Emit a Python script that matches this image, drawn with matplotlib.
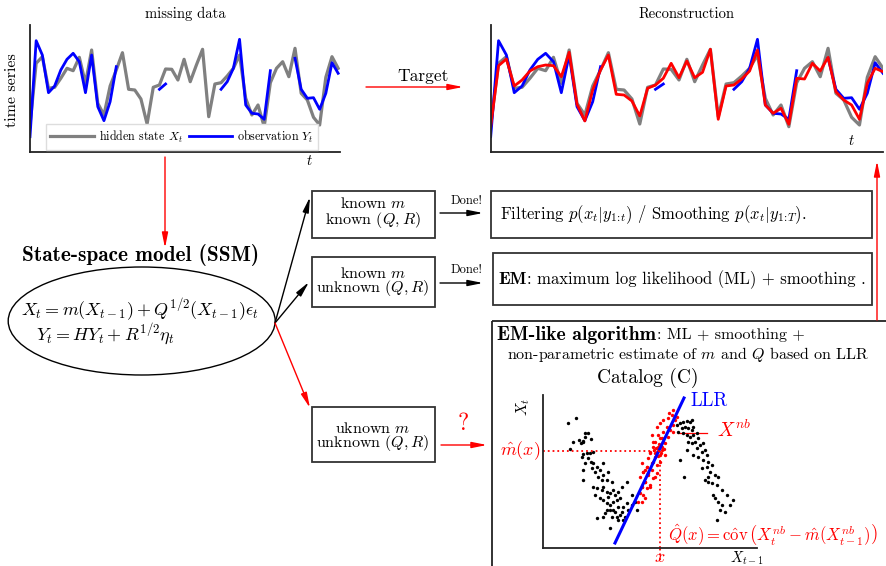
import matplotlib.pyplot as plt
import numpy as np
from matplotlib.patches import Rectangle, Ellipse

plt.rcParams['font.family'] = 'cmr10'
plt.rcParams['mathtext.fontset'] = 'cm'
plt.rcParams['axes.unicode_minus'] = False

nan = np.nan
# time series (height above the time axis)
hidden = [27, 88.7, 95.3, 63.7, 64.7, 73.7, 83.7, 81.3, 94.7, 68.7,
          102, 48.7, 37, 66, 82, 99.3, 62.7, 62, 53, 28,
          64.7, 67, 83, 82.7, 72, 92.7, 70.3, 87, 102.7, 35.3,
          68, 69.3, 76, 83.7, 97, 53.7, 37, 47, 25.3, 69.3,
          83.7, 90.3, 75.3, 103.7, 58.7, 52, 34.7, 27, 74.7, 95.3, 83.7]
obs = [15.3, 111.3, 97, 59.3, 66, 82, 92.7, 98.7, 90.3, 59.3,
       97, 45.3, 31.3, 50.3, 85.3, nan, nan, nan, nan, nan,
       nan, 62.7, 68, nan, nan, nan, nan, nan, nan, nan,
       nan, 62.7, 70.3, 83.7, 112.7, 47, 38.7, 38, 32.7, 81.3,
       nan, nan, nan, 93.7, 62.7, 53.7, 54.3, 42.7, 58.7, 89.3, 78.7]
smooth = [25.3, 86.3, 93, 66, 72, 81, 85.3, 87, 86.3, 75.3,
          99.7, 47.7, 31, 62, 82, 97, 57.7, 57, 51, 36,
          63.7, 67, 73.7, 88.7, 74.3, 91, 74.3, 79.7, 102.7, 32.7,
          66, 67, 73, 81, 102, 47, 38.7, 43.7, 27.7, 73.7,
          73, 88.7, 81, 94.7, 60.3, 52, 47, 32.7, 68.7, 83.7, 80.3]
t = np.arange(len(hidden))

# catalog scatter (X_{t-1}, X_t)
cat_x = [25, 33, 42, 45, 30, 36, 38, 40, 40, 42, 27, 48, 44, 40, 47, 50, 39, 45, 42, 48,
         50, 54, 49, 40, 52, 57, 60, 65, 60, 55, 59, 64, 40, 69, 50, 54, 59, 60, 64, 67,
         70, 72, 75, 79, 84, 52, 57, 60, 65, 64, 67, 70, 74, 77, 75, 80, 84, 79, 72, 67,
         62, 54, 60, 69, 74, 77, 82, 67, 75, 80, 85, 89, 94, 92, 89, 70, 64,
         134, 137, 140, 144, 147, 149, 139, 142, 145, 149, 150, 135, 140, 144, 147, 150, 154, 155,
         145, 149, 152, 157, 160, 154, 159, 162, 164, 137, 155, 160, 165, 169, 164, 167, 172, 175,
         162, 165, 169, 174, 179, 184, 170, 172, 175, 179, 177, 182, 187, 190, 174, 165, 159, 150,
         144, 141]
cat_y = [125, 130, 115, 115, 106, 108, 105, 106, 107, 111, 99, 109, 95, 94, 95, 96, 91, 90, 85, 86,
         85, 81, 80, 78, 76, 78, 85, 76, 73, 71, 68, 68, 68, 66, 61, 60, 58, 61, 56, 55,
         58, 53, 56, 61, 66, 53, 50, 48, 51, 45, 43, 46, 48, 50, 41, 41, 45, 36, 36, 38,
         35, 30, 31, 31, 31, 33, 31, 20, 28, 28, 38, 43, 38, 46, 53, 38, 38,
         123, 125, 126, 127, 126, 128, 120, 121, 120, 118, 121, 116, 115, 113, 111, 113, 115, 110,
         106, 105, 106, 103, 105, 100, 96, 98, 93, 88, 91, 88, 86, 83, 81, 76, 73, 71,
         68, 66, 65, 63, 58, 53, 53, 50, 46, 43, 38, 36, 43, 48, 28, 71, 80, 93,
         98, 71]
nb_x = [130, 129, 125, 120, 117, 124, 127, 130, 120, 115, 119, 112, 122, 110, 115, 119, 107, 112,
        117, 105, 110, 114, 104, 109, 100, 105, 110, 102, 99, 104, 107, 100, 99, 130, 134, 132,
        125, 122, 114, 117, 102, 126, 109, 114, 110, 115, 107, 112, 109, 104, 99, 100, 105, 97,
        102, 99, 97, 102, 95, 107, 112, 113, 116, 119, 114, 120, 117, 111, 121, 115, 118]
nb_y = [138, 133, 130, 128, 125, 121, 118, 116, 116, 113, 110, 106, 105, 101, 100, 98, 96, 95,
        93, 90, 86, 83, 81, 78, 76, 73, 70, 66, 61, 60, 63, 53, 46, 123, 131, 128,
        111, 93, 75, 86, 78, 135, 113, 121, 106, 101, 95, 91, 85, 81, 85, 76, 75, 71,
        66, 61, 55, 50, 46, 61, 71, 100, 104, 101, 96, 106, 110, 98, 99, 92, 95]
llr_x = [72, 141]
llr_y = [5, 150]
x_star, m_hat = 117, 97

W, H = 886, 566
fig = plt.figure(figsize=(W / 100, H / 100), dpi=100)
ax = fig.add_axes([0, 0, 1, 1])
ax.set_xlim(0, W)
ax.set_ylim(H, 0)
ax.axis('off')


def px_axes(x0, y0, x1, y1):
    a = fig.add_axes([x0 / W, 1 - y1 / H, (x1 - x0) / W, (y1 - y0) / H])
    a.set_facecolor('none')
    for s in ['top', 'right']:
        a.spines[s].set_visible(False)
    for s in ['left', 'bottom']:
        a.spines[s].set_linewidth(1.3)
        a.spines[s].set_color('#222222')
    a.set_xticks([])
    a.set_yticks([])
    return a


def arrow(x0, y0, x1, y1, color='black', lw=1.0):
    ax.annotate('', xy=(x1, y1), xytext=(x0, y0),
                arrowprops=dict(arrowstyle='-|>,head_length=0.9,head_width=0.18',
                                color=color, lw=lw, shrinkA=0, shrinkB=0))


def box(x0, y0, x1, y1):
    ax.add_patch(Rectangle((x0, y0), x1 - x0, y1 - y0, fill=False,
                           ec='#333333', lw=1.3))


# ---- left time series (missing data)
a1 = px_axes(30, 25, 340, 152)
a1.plot(t, hidden, color='gray', lw=2.3, label='hidden state $X_t$')
a1.plot(t, obs, color='blue', lw=2.0, label='observation $Y_t$')
a1.set_xlim(0, 50.3)
a1.set_ylim(0, 127)
a1.legend(loc='lower center', bbox_to_anchor=(0.49, 0.0), ncol=2, fontsize=8.7,
          handlelength=3.6, borderaxespad=0.2, columnspacing=0.5, handletextpad=0.4,
          fancybox=False, edgecolor='#dddddd', framealpha=1)
ax.text(185, 14, 'missing data', ha='center', va='center', fontsize=10.5)
ax.text(12, 90, 'time series', ha='center', va='center', fontsize=11.5, rotation=90)
ax.text(309, 161, '$t$', ha='center', va='center', fontsize=10.5)

# ---- right time series (reconstruction)
a2 = px_axes(490.7, 25, 883, 152)
a2.plot(t, hidden, color='gray', lw=2.3)
a2.plot(t, obs, color='blue', lw=2.0)
a2.plot(t, smooth, color='red', lw=2.0)
a2.set_xlim(0, 50)
a2.set_ylim(0, 127)
ax.text(687, 14, 'Reconstruction', ha='center', va='center', fontsize=10.5)
ax.text(851, 141, '$t$', ha='center', va='center', fontsize=10.5)

# Target arrow
arrow(366, 87, 463, 87, color='red')
ax.text(423, 76, 'Target', ha='center', va='center', fontsize=12.5)

# SSM
arrow(165, 157, 165, 248, color='red')
ax.text(141, 255, 'State-space model (SSM)', ha='center', va='center',
        fontsize=15.3, family='cmb10')
ax.add_patch(Ellipse((141.7, 321), 267, 108, fill=False, ec='black', lw=1.0))
ax.text(140, 310, r'$X_t = m(X_{t-1}) + Q^{1/2}(X_{t-1})\epsilon_t$',
        ha='center', va='center', fontsize=13)
ax.text(106, 335, r'$Y_t = HY_t + R^{1/2}\eta_t$', ha='center', va='center', fontsize=13)

arrow(275, 323, 310, 197)
arrow(275, 323, 309, 282)
arrow(275, 323, 310, 408, color='red')

# boxes with model cases
box(312, 191, 435, 238)
ax.text(373, 213, 'known $m$\nknown $(Q,R)$', ha='center', va='center',
        fontsize=11.5, linespacing=0.95)
box(312, 257, 435, 307)
ax.text(373, 282, 'known $m$\nunknown $(Q,R)$', ha='center', va='center',
        fontsize=11.5, linespacing=0.85)
box(312, 407, 435, 462)
ax.text(373, 437, 'uknown $m$\nunknown $(Q,R)$', ha='center', va='center',
        fontsize=11.5, linespacing=0.85)

arrow(440, 213, 483, 213)
ax.text(467, 201, 'Done!', ha='center', va='center', fontsize=9)
arrow(440, 283, 483, 283)
ax.text(467, 270, 'Done!', ha='center', va='center', fontsize=9)
arrow(441, 445, 487, 445, color='red')
ax.text(463, 424, '?', ha='center', va='center', fontsize=17, color='red')

box(491, 191, 872, 238)
ax.text(500, 215, r'Filtering $p(x_t|y_{1\!:\!t})$ / Smoothing $p(x_t|y_{1\!:\!T})$.',
        ha='left', va='center', fontsize=12)
box(493, 253, 872, 305)
ax.text(498, 280, 'EM', ha='left', va='center', fontsize=12.8, family='cmb10')
ax.text(527, 280, ': maximum log likelihood (ML) + smoothing .', ha='left',
        va='center', fontsize=12)

arrow(877, 320, 877, 161, color='red')

# EM-like box
ax.add_patch(Rectangle((492, 321), 420, 260, fill=False, ec='#222222', lw=1.3))
ax.text(497, 335, 'EM-like algorithm', ha='left', va='center', fontsize=14.2,
        family='cmb10')
ax.text(657, 335, ': ML + smoothing +', ha='left', va='center', fontsize=11.5)
ax.text(688, 354, 'non-parametric estimate of $m$ and $Q$ based on LLR',
        ha='center', va='center', fontsize=11.5)
ax.text(648, 378, 'Catalog (C)', ha='center', va='center', fontsize=14)

# catalog scatter
a3 = px_axes(543, 395, 757, 548)
a3.set_xlim(0, 214)
a3.set_ylim(0, 153)
a3.scatter(cat_x, cat_y, s=6, color='black', lw=0)
a3.scatter(nb_x, nb_y, s=6, color='red', lw=0)
a3.plot(llr_x, llr_y, color='blue', lw=2.2)
a3.plot([0, x_star], [m_hat, m_hat], color='red', ls=':', lw=1.3)
a3.plot([x_star, x_star], [0, m_hat], color='red', ls=':', lw=1.3)
a3.plot([x_star, x_star], [-12, 0], color='red', ls=':', lw=1.3, clip_on=False)

ax.text(523, 407, '$X_t$', ha='center', va='center', fontsize=11, rotation=90)
ax.text(747, 558, '$X_{t-1}$', ha='center', va='center', fontsize=10.5)
ax.text(520, 451, r'$\hat{m}(x)$', ha='center', va='center', fontsize=13, color='red')
ax.text(660, 557, '$x$', ha='center', va='center', fontsize=13, color='red')
ax.text(690, 401, 'LLR', ha='left', va='center', fontsize=13.5, color='blue')
ax.plot([678, 707], [433, 433], color='red', lw=0.9)
ax.text(717, 430, '$X^{nb}$', ha='left', va='center', fontsize=14, color='red')
ax.text(878, 535,
        r'$\hat{Q}(x) = \mathrm{c\hat{o}v}\,\left(X_t^{nb} - \hat{m}(X_{t-1}^{nb})\right)$',
        ha='right', va='center', fontsize=12, color='red')

fig.savefig('out.png', dpi=100)
